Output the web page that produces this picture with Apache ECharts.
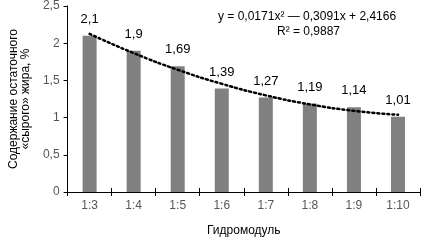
<!DOCTYPE html>
<html>
<head>
<meta charset="utf-8">
<script src="https://cdn.jsdelivr.net/npm/echarts@6/dist/echarts.min.js"></script>
<style>
	html, body { margin: 0; padding: 0; background: #fff; }
	#chart { width: 421px; height: 242px; }
</style>
</head>
<body>
<div id="chart"></div>
<script>
// соотношение сырьё : растворитель
const categories = ["1:3", "1:4", "1:5", "1:6", "1:7", "1:8", "1:9", "1:10"];
// остаточный жир, %
const fatValues = [2.1, 1.9, 1.69, 1.39, 1.27, 1.19, 1.14, 1.01];
// полиномиальная линия тренда (значения в точках категорий)
const trendValues = [2.125, 1.867, 1.643, 1.454, 1.299, 1.178, 1.091, 1.038];
const yTicks = [0, 0.5, 1, 1.5, 2, 2.5];
const equationText = "y = 0,0171x² — 0,3091x + 2,4166";
const r2Text = "R² = 0,9887";

const FONT = "'Liberation Sans', Arial, sans-serif";
const comma = (v) => String(v).replace(".", ",");

let myChart = echarts.init(document.getElementById("chart"));
let option = {
	animation: false,
	grid: { left: 66, right: 1, top: 5, bottom: 49 },
	xAxis: [
		{
			type: "category",
			data: categories,
			name: "Гидромодуль",
			nameLocation: "middle",
			nameGap: 33,
			axisLine: { show: true, lineStyle: { color: "#000", width: 1 } },
			axisTick: { show: true, length: 4, lineStyle: { color: "#000", width: 1 } },
		},
		{
			//засечки внутрь, чтобы пересекали ось
			type: "category",
			data: categories,
			position: "bottom",
			axisLine: { show: false },
			axisTick: { show: true, inside: true, length: 4, lineStyle: { color: "#000", width: 1 } },
			axisLabel: { show: false },
		},
	],
	yAxis: [
		{
			type: "value",
			min: yTicks[0],
			max: yTicks[yTicks.length - 1],
			interval: 0.5,
			name: "Содержание остаточного\n«сырого» жира, %",
			nameLocation: "middle",
			nameRotate: 90,
			nameGap: 33,
			axisLine: { show: true, lineStyle: { color: "#000", width: 1 } },
			axisTick: { show: true, length: 4, lineStyle: { color: "#000", width: 1 } },
			axisLabel: { formatter: comma },
			splitLine: { show: false },
		},
	],
	series: [
		{
			type: "bar",
			data: fatValues,
			barWidth: 14,
			itemStyle: { color: "#808080" },
			label: {
				show: true,
				position: "top",
				distance: 10,
				fontSize: 13,
				color: "#000",
				fontFamily: FONT,
				formatter: (p) => comma(p.value),
			},
		},
		{
			type: "line",
			data: trendValues,
			smooth: true,
			symbol: "none",
			z: 5,
			lineStyle: { color: "#000", width: 2.5, type: [2, 3], cap: "round" },
		},
	],
	graphic: [
		{
			type: "text",
			left: 218,
			top: 11,
			style: { text: equationText, fill: "#000", font: "12px " + FONT },
		},
		{
			type: "text",
			left: 277,
			top: 26,
			style: { text: r2Text, fill: "#000", font: "12px " + FONT },
		},
	],
};
myChart.setOption(option);
</script>
</body>
</html>
